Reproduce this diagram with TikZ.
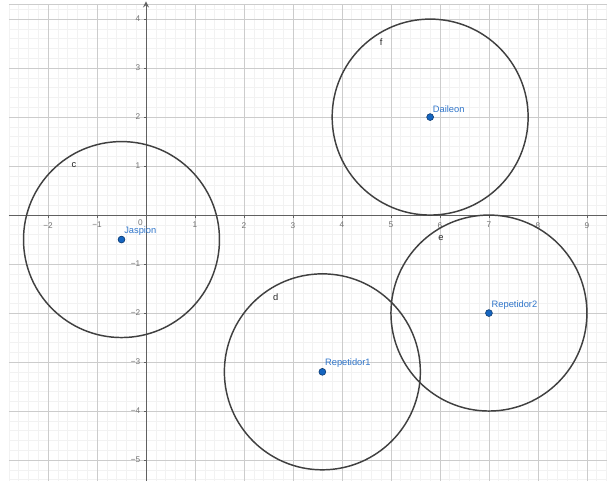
\documentclass[tikz,border=0pt]{standalone}
\usepackage{fontspec}
\setsansfont{Liberation Sans}
\usepackage{tikz}
\usetikzlibrary{arrows, positioning}
\definecolor{ggblue}{HTML}{1565C0}
\definecolor{gglabel}{HTML}{2E74C9}
\definecolor{ggdark}{HTML}{0D3A70}
\tikzstyle{minorgrid} = [draw=black!5, line width=0.3pt]
\tikzstyle{majorgrid} = [draw=black!20, line width=0.4pt]
\tikzstyle{axis} = [draw=black!62, line width=0.55pt]
\tikzstyle{ticklabel} = [text=black!55, font=\sffamily\fontsize{4.8}{5}\selectfont, inner sep=0pt]
\tikzstyle{circ} = [draw=black!75, line width=0.85pt]
\tikzstyle{circlabel} = [text=black!85, font=\sffamily\fontsize{5.4}{6}\selectfont, inner sep=0pt]
\tikzstyle{pt} = [circle, fill=ggblue, draw=ggdark, line width=0.35pt, inner sep=0pt, minimum size=0.14cm]
\tikzstyle{ptlabel} = [text=gglabel, font=\sffamily\fontsize{5.4}{6}\selectfont, inner sep=0pt, anchor=west]

\begin{document}
\begin{tikzpicture}
	\useasboundingbox (-2.98,-5.43) rectangle (9.41,4.39);

	% Grid
	\draw [minorgrid, step=0.2] (-2.8,-5.43) grid (9.41,4.31);
	\draw [majorgrid, step=1] (-2.8,-5.43) grid (9.41,4.31);
	\draw [majorgrid] (-2.8,4.31) -- (9.41,4.31);

	% Axes
	\draw [axis] (-2.8,0) -- (9.41,0);
	\draw [axis, -stealth] (0,-5.43) -- (0,4.36);
	\foreach \x/\t in {-2/−2,-1/−1,1/1,2/2,3/3,4/4,5/5,6/6,7/7,8/8,9/9}
		\draw [axis, line width=0.35pt] (\x,0) -- (\x,-0.05) node [ticklabel, below=0.09cm] {\t};
	\foreach \y/\t in {-5/−5,-4/−4,-3/−3,-2/−2,-1/−1,1/1,2/2,3/3,4/4}
		\draw [axis, line width=0.35pt] (0,\y) -- (-0.05,\y) node [ticklabel, left=0.06cm] {\t};
	\node [ticklabel, below left=0.09cm and 0.06cm] at (0,0) {0};

	% Points
	\node (jaspion) [pt] at (-0.5,-0.5) {};
	\node (daileon) [pt] at (5.8,2) {};
	\node (rep1) [pt] at (3.6,-3.2) {};
	\node (rep2) [pt] at (7,-2) {};

	% Circles
	\draw [circ] (jaspion.center) circle (2);
	\draw [circ] (daileon.center) circle (2);
	\draw [circ] (rep1.center) circle (2);
	\draw [circ] (rep2.center) circle (2);

	% Labels
	\node [ptlabel] at ([shift={(0.05,0.17)}]jaspion.center) {Jaspion};
	\node [ptlabel] at ([shift={(0.05,0.17)}]daileon.center) {Daileon};
	\node [ptlabel] at ([shift={(0.05,0.17)}]rep1.center) {Repetidor1};
	\node [ptlabel] at ([shift={(0.05,0.17)}]rep2.center) {Repetidor2};
	\node [circlabel] at (-1.47,1.02) {c};
	\node [circlabel] at (4.8,3.52) {f};
	\node [circlabel] at (2.65,-1.68) {d};
	\node [circlabel] at (6.02,-0.47) {e};
\end{tikzpicture}
\end{document}
